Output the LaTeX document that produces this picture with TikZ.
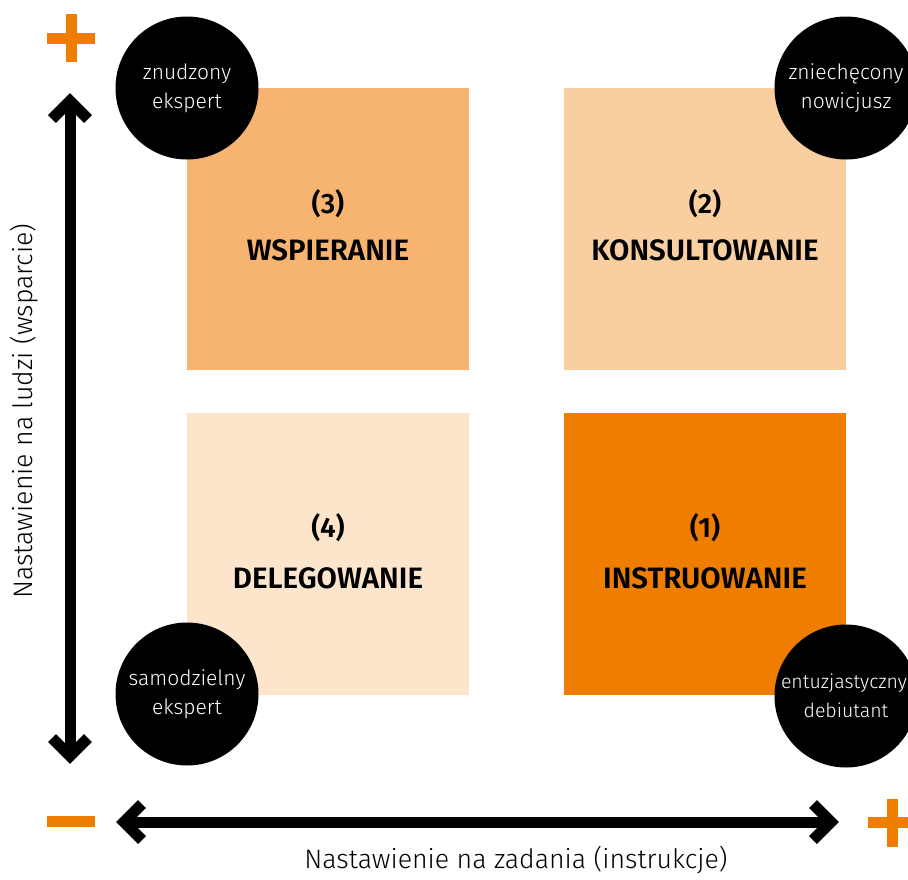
\documentclass[tikz,border=0pt]{standalone}
\usepackage{fontspec}
\setmainfont{Fira Sans}
\newfontfamily\lightfont{Fira Sans Light}
\newfontfamily\boldfont{Fira Sans SemiBold}
\definecolor{c3}{HTML}{F6B470}
\definecolor{c2}{HTML}{F9CFA0}
\definecolor{c4}{HTML}{FDE5CC}
\definecolor{c1}{HTML}{EF7D00}
\tikzset{
  sq/.style={minimum width=282pt, minimum height=282pt, inner sep=0pt, anchor=north west},
  circ/.style={circle, fill=black, minimum size=143pt, inner sep=0pt, text=white, font=\lightfont\fontsize{21}{29}\selectfont, align=center},
  num/.style={font=\boldfont\fontsize{28}{30}\selectfont},
  title/.style={font=\boldfont\fontsize{29.5}{30}\selectfont},
  axis/.style={line width=11pt},
  chev/.style={line width=11pt, miter limit=10},
  axlabel/.style={font=\lightfont\fontsize{26.7}{30}\selectfont},
  sign/.style={fill=c1}
}
\begin{document}
\begin{tikzpicture}[x=1pt,y=-1pt]
\useasboundingbox (0,0) rectangle (908,879);
% squares
\node[sq, fill=c3] (s3) at (187,88) {};
\node[sq, fill=c2] (s2) at (564,88) {};
\node[sq, fill=c4] (s4) at (187,413) {};
\node[sq, fill=c1] (s1) at (564,413) {};
% square texts
\node[num] (n3) at (328,204) {(3)};
\node[title] (t3) at (328,250) {WSPIERANIE};
\node[num] (n2) at (705,204) {(2)};
\node[title] (t2) at (705,250) {KONSULTOWANIE};
\node[num] (n4) at (328,528) {(4)};
\node[title] (t4) at (328,578) {DELEGOWANIE};
\node[num] (n1) at (705,528) {(1)};
\node[title] (t1) at (705,578) {INSTRUOWANIE};
% circles
\node[circ] (c-tl) at (187,88) {znudzony\\ekspert};
\node[circ] (c-tr) at (846,88) {zniechęcony\\nowicjusz};
\node[circ] (c-bl) at (187,694) {samodzielny\\ekspert};
\node[circ, font=\lightfont\fontsize{19.5}{29}\selectfont] (c-br) at (846,696) {\hspace*{-4pt}entuzjastyczny\\debiutant};
% vertical axis
\coordinate (vtop) at (70,101);
\coordinate (vbot) at (70,756);
\coordinate (vtl) at (52,119);
\coordinate (vtr) at (88,119);
\coordinate (vbl) at (52,738);
\coordinate (vbr) at (88,738);
\draw[axis] (vtop) -- (vbot);
\draw[chev] (vtl) -- (vtop) -- (vtr);
\draw[chev] (vbl) -- (vbot) -- (vbr);
% horizontal axis
\coordinate (hl) at (124,822);
\coordinate (hr) at (831,822);
\coordinate (hlt) at (142,804);
\coordinate (hlb) at (142,840);
\coordinate (hrt) at (813,804);
\coordinate (hrb) at (813,840);
\draw[axis] (hl) -- (hr);
\draw[chev] (hlt) -- (hl) -- (hlb);
\draw[chev] (hrt) -- (hr) -- (hrb);
% signs
\fill[sign] (47,33) rectangle (95,44);
\fill[sign] (65.5,14) rectangle (76.5,62);
\fill[sign] (47,816) rectangle (95,827);
\fill[sign] (868,817) rectangle (916,828);
\fill[sign] (887,799) rectangle (898,847);
% axis labels
\node[axlabel] (lx) at (516,860) {Nastawienie na zadania (instrukcje)};
\node[axlabel, rotate=90] (ly) at (24,411) {Nastawienie na ludzi (wsparcie)};
\end{tikzpicture}
\end{document}
